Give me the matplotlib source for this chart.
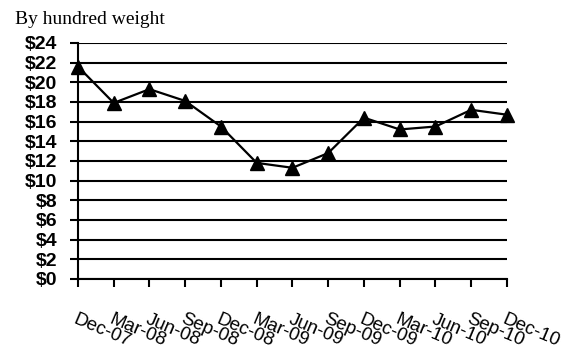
import numpy as np
import matplotlib.pyplot as plt

# 季度標籤與價格（每英擔）
quarters = ["Dec-07", "Mar-08", "Jun-08", "Sep-08", "Dec-08", "Mar-09", "Jun-09",
            "Sep-09", "Dec-09", "Mar-10", "Jun-10", "Sep-10", "Dec-10"]
prices = [21.6, 17.9, 19.3, 18.1, 15.5, 11.8, 11.3, 12.8, 16.4, 15.2, 15.5, 17.2, 16.7]
yticks = list(range(0, 25, 2))

fig = plt.figure(figsize=(5.69, 3.58), dpi=100)
ax = fig.add_axes([0.137, 0.221, 0.754, 0.659])

x = np.arange(len(quarters))
ax.plot(x, prices, color="black", linewidth=1.6, marker="^", markersize=10,
        clip_on=False, zorder=3)

ax.set_xlim(0, len(quarters) - 1)
ax.set_ylim(0, 24)
ax.set_yticks(yticks)
ax.set_yticklabels([f"${v}" for v in yticks], fontfamily="Liberation Sans",
                   fontweight="bold", fontsize=14)
ax.set_xticks(x)
ax.set_xticklabels(quarters, fontfamily="Liberation Sans", fontsize=13.5,
                   rotation=-23, ha="left", va="top", rotation_mode="anchor")

ax.grid(axis="y", color="black", linewidth=1.5)
ax.set_axisbelow(True)
ax.tick_params(axis="y", direction="out", length=6, width=1.5, pad=9)
ax.tick_params(axis="x", direction="out", length=6, width=1.5, pad=17)
for s in ("top", "right"):
    ax.spines[s].set_visible(False)
for s in ("left", "bottom"):
    ax.spines[s].set_linewidth(1.5)

fig.text(0.026, 0.945, "By hundred weight", fontfamily="Liberation Serif",
         fontsize=14, ha="left", va="center")

fig.savefig("out.png", dpi=100)
